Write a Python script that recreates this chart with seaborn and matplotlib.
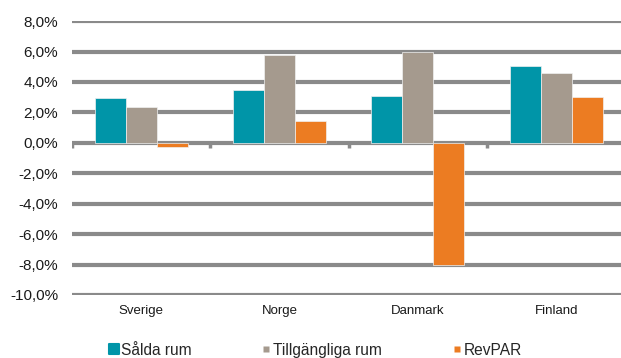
import matplotlib
matplotlib.use("Agg")
import matplotlib.pyplot as plt
import seaborn as sns
import pandas as pd
from matplotlib.lines import Line2D
from matplotlib.markers import MarkerStyle
from matplotlib.ticker import FuncFormatter

countries = ["Sverige", "Norge", "Danmark", "Finland"]
series = ["Sålda rum", "Tillgängliga rum", "RevPAR"]
salda = [2.95, 3.5, 3.05, 5.05]
tillg = [2.35, 5.8, 6.0, 4.6]
revpar = [-0.3, 1.45, -8.0, 3.0]
yticks = [8, 6, 4, 2, 0, -2, -4, -6, -8, -10]
colors = ["#0095A8", "#A59A8E", "#EC7C22"]

rows = []
for s, vals in zip(series, [salda, tillg, revpar]):
    for c, v in zip(countries, vals):
        rows.append({"land": c, "serie": s, "v": v})
df = pd.DataFrame(rows)

sns.set_theme(style="white")
plt.rcParams['font.family'] = ['Liberation Sans', 'DejaVu Sans']

fig = plt.figure(figsize=(6.21, 3.58), dpi=100)
ax = fig.add_axes([0.116, 0.176, 0.891, 0.765])

sns.barplot(data=df, x="land", y="v", hue="serie", palette=colors,
            width=0.673, ax=ax, legend=False, saturation=1,
            edgecolor="#f0f0f0", linewidth=0.5, zorder=3)

ax.set_ylim(-10, 8)
ax.set_xlim(-0.5, 3.5)
ax.set_yticks(yticks)
ax.yaxis.set_major_formatter(FuncFormatter(lambda v, p: f"{v:.1f}%".replace(".", ",")))
ax.grid(axis="y", color="#8a8a8a", linewidth=3, zorder=0)
ax.set_axisbelow(True)
for sp in ax.spines.values():
    sp.set_visible(False)
ax.tick_params(axis="both", length=0, colors="#1a1a1a")
ax.tick_params(axis="x", pad=7, labelsize=9.5)
ax.tick_params(axis="y", pad=10, labelsize=11)
ax.set_xlabel("")
ax.set_ylabel("")
# small tick marks at category boundaries on the zero line
ax.vlines([-0.5, 0.5, 1.5, 2.5], -0.35, 0, color="#8a8a8a", linewidth=2.5, zorder=1)

handles = [
    Line2D([], [], linestyle="none", marker=MarkerStyle("s", joinstyle="round"),
           markersize=6.5, markerfacecolor=colors[0], markeredgecolor=colors[0],
           markeredgewidth=1.5),
    Line2D([], [], linestyle="none", marker="s", markersize=5,
           markerfacecolor=colors[1], markeredgecolor="none"),
    Line2D([], [], linestyle="none", marker="s", markersize=5,
           markerfacecolor=colors[2], markeredgecolor="none"),
]
fig.legend(handles, series, loc="center left", bbox_to_anchor=(0.1755, 0.0223),
           ncol=3, frameon=False, fontsize=11.2, handlelength=0.65,
           handletextpad=0.1, columnspacing=4.5, borderpad=0, borderaxespad=0)

fig.savefig("out.png", dpi=100)
